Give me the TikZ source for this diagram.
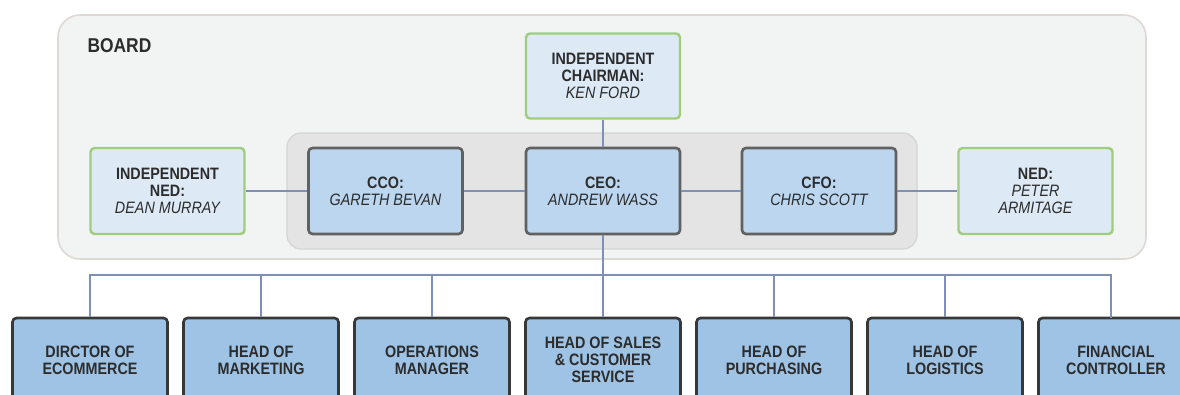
\documentclass[tikz,border=0pt]{standalone}
\usepackage{fontspec}
\setmainfont{Liberation Sans}[FakeStretch=0.87]
\definecolor{boardfill}{HTML}{F2F3F3}
\definecolor{boardline}{HTML}{DED9D5}
\definecolor{innerfill}{HTML}{E4E4E4}
\definecolor{innerline}{HTML}{D4D4D4}
\definecolor{greenline}{HTML}{9FCD7C}
\definecolor{lightblue}{HTML}{DDEAF6}
\definecolor{midblue}{HTML}{BBD6EE}
\definecolor{deepblue}{HTML}{9EC3E5}
\definecolor{conn}{HTML}{7E90B6}
\definecolor{txt}{HTML}{2C2C2C}
\tikzset{
  x=1pt, y=-1pt,
  boxtext/.style={font=\fontsize{16.5}{17.2}\selectfont\bfseries, text=txt, align=center},
  indbox/.style={boxtext, draw=greenline, fill=lightblue, line width=2.4pt, rounded corners=4pt,
    minimum width=154pt, minimum height=85pt, inner sep=0pt},
  execbox/.style={boxtext, draw=black!62, fill=midblue, line width=2.6pt, rounded corners=4pt,
    minimum width=154pt, minimum height=86pt, inner sep=0pt},
  deptbox/.style={boxtext, draw=black!78, fill=deepblue, line width=2.6pt, rounded corners=4pt,
    minimum width=155pt, minimum height=84pt, inner sep=0pt},
  link/.style={draw=conn, line width=2.8pt},
}
\newcommand{\pname}[1]{{\mdseries\itshape #1}}
\begin{document}
\begin{tikzpicture}
\useasboundingbox (0,0) rectangle (1180,394);
\clip (0,0) rectangle (1180,394);
\fill[white] (0,0) rectangle (1180,394);
% board
\draw[fill=boardfill, draw=boardline, line width=1.6pt, rounded corners=22pt] (58,15) rectangle (1146,259);
\node[font=\fontsize{20}{20}\selectfont\bfseries, text=txt, anchor=west] (board) at (84,46) {BOARD};
\draw[fill=innerfill, draw=innerline, line width=1.2pt, rounded corners=14pt] (287,133) rectangle (917,249);
% upper nodes
\node[indbox] (chair) at (603,76) {INDEPENDENT\\CHAIRMAN:\\\pname{KEN FORD}};
\node[indbox, minimum height=86pt] (ind) at (167.5,191) {INDEPENDENT\\NED:\\\pname{DEAN MURRAY}};
\node[execbox] (cco) at (385.5,191) {CCO:\\\pname{GARETH BEVAN}};
\node[execbox] (ceo) at (603,191) {CEO:\\\pname{ANDREW WASS}};
\node[execbox] (cfo) at (819,191) {CFO:\\\pname{CHRIS SCOTT}};
\node[indbox, minimum height=86pt] (ned) at (1035.5,191) {NED:\\\pname{PETER}\\\pname{ARMITAGE}};
% departments
\node[deptbox] (d1) at (90,360) {DIRCTOR OF\\ECOMMERCE};
\node[deptbox] (d2) at (261,360) {HEAD OF\\MARKETING};
\node[deptbox] (d3) at (432,360) {OPERATIONS\\MANAGER};
\node[deptbox] (d4) at (603,360) {HEAD OF SALES\\\& CUSTOMER\\SERVICE};
\node[deptbox] (d5) at (774,360) {HEAD OF\\PURCHASING};
\node[deptbox] (d6) at (945,360) {HEAD OF\\LOGISTICS};
\node[deptbox] (d7) at (1116,360) {FINANCIAL\\CONTROLLER};
\coordinate (bus) at (0,275);
\coordinate (d7top) at (1111,318);
% connectors
\draw[link] (chair) -- (ceo);
\draw[link] (ind) -- (cco);
\draw[link] (cco) -- (ceo);
\draw[link] (ceo) -- (cfo);
\draw[link] (cfo) -- (ned);
\draw[link] (ceo.south) -- (ceo.south |- bus);
\draw[link] (d1.north) -- (d1.north |- bus) -- (d7top |- bus) -- (d7top);
\foreach \d in {d2,d3,d4,d5,d6} { \draw[link] (\d.north) -- (\d.north |- bus); }
\end{tikzpicture}
\end{document}
